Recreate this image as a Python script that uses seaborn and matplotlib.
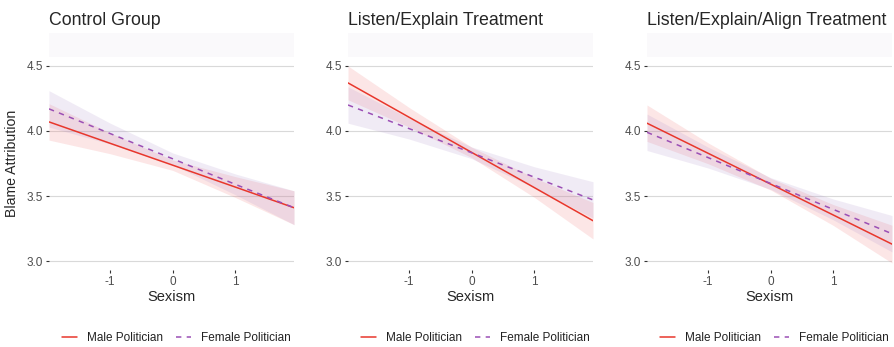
import numpy as np
import pandas as pd
import seaborn as sns
import matplotlib.pyplot as plt
from matplotlib.lines import Line2D
from matplotlib.patches import Rectangle

# %% Data (fitted lines and 95% bands)

panel_titles = ["Control Group", "Listen/Explain Treatment", "Listen/Explain/Align Treatment"]
sexism = [-1.98, -1.0, 0.0, 1.0, 1.94]
x_ticks = [-1, 0, 1]
y_ticks = [3.0, 3.5, 4.0, 4.5]

male_fit = [[4.07, 3.905, 3.737, 3.569, 3.41],
            [4.37, 4.105, 3.835, 3.565, 3.31],
            [4.06, 3.828, 3.591, 3.354, 3.13]]
male_low = [[3.93, 3.825, 3.697, 3.489, 3.28],
            [4.24, 4.030, 3.795, 3.490, 3.17],
            [3.92, 3.748, 3.546, 3.274, 2.985]]
male_high = [[4.21, 3.985, 3.777, 3.649, 3.54],
             [4.50, 4.180, 3.875, 3.640, 3.45],
             [4.20, 3.908, 3.636, 3.434, 3.275]]

female_fit = [[4.17, 3.980, 3.786, 3.590, 3.41],
              [4.20, 4.018, 3.832, 3.645, 3.47],
              [3.99, 3.795, 3.596, 3.397, 3.21]]
female_low = [[4.03, 3.900, 3.741, 3.510, 3.28],
              [4.06, 3.938, 3.787, 3.565, 3.33],
              [3.85, 3.715, 3.551, 3.317, 3.07]]
female_high = [[4.31, 4.060, 3.831, 3.670, 3.54],
                [4.34, 4.098, 3.877, 3.725, 3.61],
                [4.13, 3.875, 3.641, 3.477, 3.35]]

groups = ["Male Politician", "Female Politician"]
line_colors = {"Male Politician": "#E8372C", "Female Politician": "#9B4FB5"}
band_colors = {"Male Politician": "#F26B6B", "Female Politician": "#A98BC9"}

# %% Plot

sns.set_theme(style="white")
plt.rcParams['font.family'] = ['Liberation Sans', 'DejaVu Sans']

W, H = 895, 347
fig = plt.figure(figsize=(W / 100, H / 100), dpi=100)

panel_left = [49, 348, 647]
panel_w = 245
panel_top, panel_bot = 57, 270

for i, title in enumerate(panel_titles):
    ax = fig.add_axes([panel_left[i] / W, 1 - panel_bot / H,
                       panel_w / W, (panel_bot - panel_top) / H])

    # faint strip above the panel
    fig.patches.append(Rectangle((panel_left[i] / W, 1 - panel_top / H), panel_w / W, 24 / H,
                                 transform=fig.transFigure, facecolor="#FAF9FB",
                                 edgecolor="none", zorder=0))

    # confidence bands
    lows = {"Male Politician": male_low[i], "Female Politician": female_low[i]}
    highs = {"Male Politician": male_high[i], "Female Politician": female_high[i]}
    for g in groups:
        ax.fill_between(sexism, lows[g], highs[g], color=band_colors[g], alpha=0.17,
                        linewidth=0, zorder=1)

    df = pd.DataFrame({
        "Sexism": sexism * 2,
        "Blame": male_fit[i] + female_fit[i],
        "Politician": [groups[0]] * len(sexism) + [groups[1]] * len(sexism),
    })
    sns.lineplot(data=df, x="Sexism", y="Blame", hue="Politician", style="Politician",
                 palette=line_colors, dashes={groups[0]: "", groups[1]: (3.5, 3.5)},
                 linewidth=1.1, ax=ax, legend=False, zorder=3)

    ax.set_xlim(-1.98, 1.94)
    ax.set_ylim(2.931, 4.569)
    ax.set_xticks(x_ticks)
    ax.set_xticklabels(["-1", "0", "1"])
    ax.set_yticks(y_ticks)
    ax.set_yticklabels(["3.0", "3.5", "4.0", "4.5"])
    ax.grid(axis="y", color="#D9D9D9", linewidth=0.8)
    ax.grid(axis="x", visible=False)
    for s in ax.spines.values():
        s.set_visible(False)
    ax.tick_params(axis="both", which="major", length=2.5, width=0.8, color="#333333",
                   labelsize=8.5, labelcolor="#4D4D4D", pad=2, bottom=True, left=True)

    ax.set_xlabel("Sexism", fontsize=10.5, labelpad=1)
    if i == 0:
        ax.set_ylabel("Blame Attribution", fontsize=10.2, labelpad=5)
    else:
        ax.set_ylabel("")

    fig.text(panel_left[i] / W, 1 - 25 / H, title, fontsize=12.8, ha="left", va="baseline")

    handles = [Line2D([], [], color=line_colors[groups[0]], lw=1.1),
               Line2D([], [], color=line_colors[groups[1]], lw=1.1, dashes=(3.5, 3.5))]
    ax.legend(handles, groups, loc="center", bbox_to_anchor=(0.52, -0.32), ncol=2,
              frameon=False, fontsize=8.5, handlelength=1.3, handletextpad=0.85,
              columnspacing=1.1, labelcolor="#222222")

plt.savefig("out.png", dpi=100)
